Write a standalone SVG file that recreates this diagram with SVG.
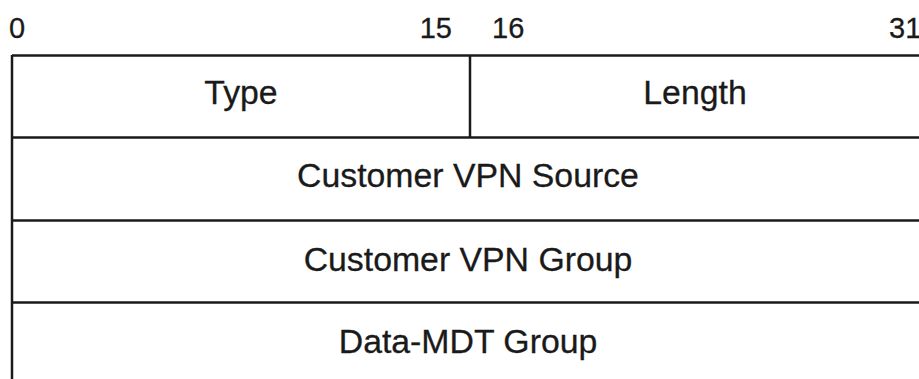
<svg xmlns="http://www.w3.org/2000/svg" width="919" height="379" viewBox="0 0 919 379">
<style>
.ln{stroke:#1a1a1a;stroke-width:2.5;fill:none}
.lbl{font-family:"Liberation Sans",Arial,sans-serif;font-size:33.8px;fill:#1a1a1a;stroke:#1a1a1a;stroke-width:0.3;text-anchor:middle}
.num{font-family:"Liberation Sans",Arial,sans-serif;font-size:29px;fill:#1a1a1a;stroke:#1a1a1a;stroke-width:0.3}
</style>
<rect width="919" height="379" fill="#fff"/>
<g id="bit-scale">
<text class="num" x="9" y="38">0</text>
<text class="num" x="452" y="38" text-anchor="end">15</text>
<text class="num" x="492" y="38">16</text>
<text class="num" x="889" y="38">31</text>
</g>
<g id="connectors">
<line class="ln" x1="12" y1="55.5" x2="919" y2="55.5"/>
<line class="ln" x1="12" y1="137.5" x2="919" y2="137.5"/>
<line class="ln" x1="12" y1="220.5" x2="919" y2="220.5"/>
<line class="ln" x1="12" y1="302.5" x2="919" y2="302.5"/>
<line class="ln" x1="12" y1="55" x2="12" y2="379"/>
<line class="ln" x1="470" y1="55" x2="470" y2="137.5"/>
</g>
<g id="type"><text class="lbl" x="241" y="104">Type</text></g>
<g id="length"><text class="lbl" x="695" y="104">Length</text></g>
<g id="cvpn-source"><text class="lbl" x="468" y="187">Customer VPN Source</text></g>
<g id="cvpn-group"><text class="lbl" x="468" y="271">Customer VPN Group</text></g>
<g id="data-mdt-group"><text class="lbl" x="468" y="353">Data-MDT Group</text></g>
</svg>
